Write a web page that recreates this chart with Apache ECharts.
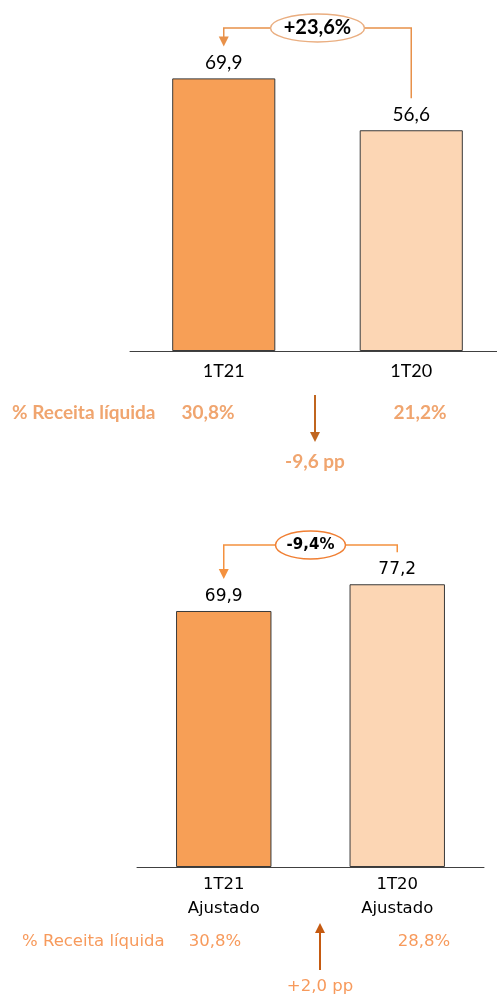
<!DOCTYPE html>
<html>
<head>
<meta charset="utf-8">
<script src="https://cdn.jsdelivr.net/npm/echarts@6/dist/echarts.min.js"></script>
<style>
  html, body { margin: 0; padding: 0; background: #fff; overflow: hidden; }
  #chart { width: 510px; height: 996px; }
</style>
</head>
<body>
<div id="chart"></div>
<script>
// dados
const topCategories = ['1T21', '1T20'];
const topValues = [69.9, 56.6];
const bottomCategories = ['1T21\nAjustado', '1T20\nAjustado'];
const bottomValues = [69.9, 77.2];
const valueLabels = [['69,9', '56,6'], ['69,9', '77,2']];
const growthLabels = ['+23,6%', '-9,4%'];
const marginTitle = '% Receita líquida';
const topMargins = ['30,8%', '21,2%'];
const bottomMargins = ['30,8%', '28,8%'];
const marginDeltas = ['-9,6 pp', '+2,0 pp'];

const COLORS = {
  current: '#F79F56',
  previous: '#FCD6B4',
  border: '#3a3a3a',
  axis: '#404040',
  topBracket: '#E8914A',
  topEllipse: '#EAAE80',
  topText: '#F0A56F',
  topArrow: '#C0651F',
  botBracket: '#F4913F',
  botEllipse: '#F07F33',
  botText: '#F79A5C',
  botArrow: '#C55A11'
};

const FONT_TOP = 'Lato';
const FONT_BOT = 'DejaVu Sans';

const chart = echarts.init(document.getElementById('chart'));

const barItem = (color) => ({ color, borderColor: COLORS.border, borderWidth: 1 });

chart.setOption({
  backgroundColor: '#fff',
  animation: false,
  grid: [
    { left: 130, width: 375, top: 39, height: 312 },
    { left: 137, width: 347, top: 574, height: 293 }
  ],
  xAxis: [
    {
      type: 'category', gridIndex: 0, data: topCategories,
      axisLine: { lineStyle: { color: COLORS.axis, width: 1 } },
      axisTick: { show: false },
      axisLabel: { color: '#000', fontFamily: FONT_TOP, fontSize: 18, margin: 11 }
    },
    {
      type: 'category', gridIndex: 1, data: bottomCategories,
      axisLine: { lineStyle: { color: COLORS.axis, width: 1 } },
      axisTick: { show: false },
      axisLabel: { color: '#000', fontFamily: FONT_BOT, fontSize: 16.5, lineHeight: 24, margin: 6 }
    }
  ],
  yAxis: [
    { type: 'value', gridIndex: 0, min: 0, max: 80, show: false },
    { type: 'value', gridIndex: 1, min: 0, max: 80, show: false }
  ],
  series: [
    {
      type: 'bar', xAxisIndex: 0, yAxisIndex: 0, barWidth: '55%',
      data: topValues.map((v, i) => ({ value: v, itemStyle: barItem(i === 0 ? COLORS.current : COLORS.previous) })),
      label: {
        show: true, position: 'top', distance: 6, color: '#000',
        fontFamily: FONT_TOP, fontSize: 19,
        formatter: (p) => valueLabels[0][p.dataIndex]
      }
    },
    {
      type: 'bar', xAxisIndex: 1, yAxisIndex: 1, barWidth: '55%',
      data: bottomValues.map((v, i) => ({ value: v, itemStyle: barItem(i === 0 ? COLORS.current : COLORS.previous) })),
      label: {
        show: true, position: 'top', distance: 6, color: '#000',
        fontFamily: FONT_BOT, fontSize: 17,
        formatter: (p) => valueLabels[1][p.dataIndex]
      }
    }
  ]
});

// texto auxiliar para os elementos gráficos
function txt(x, y, text, color, family, size, weight, align) {
  return {
    type: 'text', x, y, z: 11,
    style: {
      text, fill: color, fontFamily: family, fontSize: size, fontWeight: weight,
      align: align || 'center', verticalAlign: 'middle'
    }
  };
}

// anotações: colchete com elipse de variação
function bracket(gridIndex, values, y, ellipseW, opts) {
  const p0 = chart.convertToPixel({ gridIndex }, [0, values[0]]);
  const p1 = chart.convertToPixel({ gridIndex }, [1, values[1]]);
  const x0 = p0[0], x1 = p1[0];
  const end0 = p0[1] - 32, end1 = p1[1] - 32;
  const cx = (x0 + x1) / 2;
  const line = { stroke: opts.line, lineWidth: 1.5, fill: null };
  return [
    { type: 'polyline', shape: { points: [[cx, y], [x0, y], [x0, end0 - 9]] }, style: line },
    { type: 'polygon', shape: { points: [[x0 - 5, end0 - 10], [x0 + 5, end0 - 10], [x0, end0]] }, style: { fill: opts.line } },
    { type: 'polyline', shape: { points: [[cx, y], [x1, y], [x1, end1]] }, style: line },
    { type: 'ellipse', shape: { cx, cy: y, rx: ellipseW / 2, ry: 14 }, style: { fill: '#fff', stroke: opts.ellipse, lineWidth: 1.5 }, z: 10 },
    txt(cx, y, opts.text, '#000', opts.family, opts.size, 'bold')
  ];
}

// linha de % receita líquida com seta de variação
function marginRow(y, titleX, family, size, weight, values, valueXs, color, arrow, delta, deltaY) {
  const dir = arrow.to > arrow.from ? 1 : -1;
  const ax = arrow.x;
  return [
    txt(titleX, y, marginTitle, color, family, size, weight, 'left'),
    txt(valueXs[0], y, values[0], color, family, size, weight),
    txt(valueXs[1], y, values[1], color, family, size, weight),
    { type: 'line', shape: { x1: ax, y1: arrow.from, x2: ax, y2: arrow.to - dir * 9 }, style: { stroke: arrow.color, lineWidth: 2 } },
    { type: 'polygon', shape: { points: [[ax - 5, arrow.to - dir * 10], [ax + 5, arrow.to - dir * 10], [ax, arrow.to]] }, style: { fill: arrow.color } },
    txt(ax, deltaY, delta, color, family, size, weight)
  ];
}

const graphics = [].concat(
  bracket(0, topValues, 28, 94, { line: COLORS.topBracket, ellipse: COLORS.topEllipse, text: growthLabels[0], family: FONT_TOP, size: 20 }),
  bracket(1, bottomValues, 545, 70, { line: COLORS.botBracket, ellipse: COLORS.botEllipse, text: growthLabels[1], family: FONT_BOT, size: 15 }),
  marginRow(413, 12, FONT_TOP, 19, 'bold', topMargins, [208, 420], COLORS.topText,
    { x: 315, from: 395, to: 442, color: COLORS.topArrow }, marginDeltas[0], 462),
  marginRow(942, 22, FONT_BOT, 16.5, 'normal', bottomMargins, [215, 424], COLORS.botText,
    { x: 320, from: 970, to: 923, color: COLORS.botArrow }, marginDeltas[1], 987)
);

chart.setOption({ graphic: { elements: graphics } });
</script>
</body>
</html>
